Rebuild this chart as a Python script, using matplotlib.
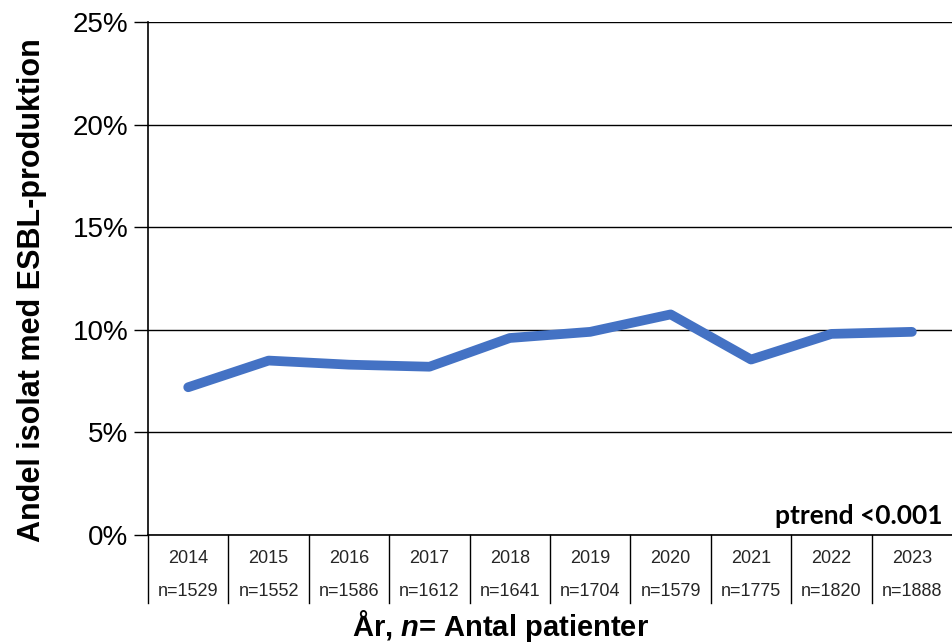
import matplotlib
matplotlib.use("Agg")
import matplotlib.pyplot as plt
import matplotlib.transforms as mtransforms

plt.rcParams['font.family'] = ['Liberation Sans', 'DejaVu Sans']
plt.rcParams['mathtext.fontset'] = 'custom'
plt.rcParams['mathtext.bfit'] = 'Liberation Sans:bold:italic'
plt.rcParams['mathtext.it'] = 'Liberation Sans:italic'

years = ['2014', '2015', '2016', '2017', '2018', '2019', '2020', '2021', '2022', '2023']
n_patients = [1529, 1552, 1586, 1612, 1641, 1704, 1579, 1775, 1820, 1888]
esbl_pct = [7.2, 8.5, 8.3, 8.2, 9.6, 9.9, 10.75, 8.55, 9.8, 9.9]
y_ticks = [0, 5, 10, 15, 20, 25]

fig = plt.figure(figsize=(9.53, 6.44), dpi=100)
ax = fig.add_axes([0.1553, 0.1693, 0.8437, 0.7965])

x = list(range(len(years)))
ax.plot(x, esbl_pct, color='#4472C4', linewidth=7, solid_capstyle='round', solid_joinstyle='round', zorder=3)

ax.set_xlim(-0.5, len(years) - 0.5)
ax.set_ylim(0, 25)
ax.set_yticks(y_ticks)
ax.set_yticklabels([f'{t}%' for t in y_ticks], fontsize=20)
ax.yaxis.grid(True, color='black', linewidth=1)
ax.set_axisbelow(True)
ax.tick_params(axis='y', length=10, width=1, direction='out', pad=4)
ax.set_xticks([])
for s in ['top', 'right']:
    ax.spines[s].set_visible(False)
ax.spines['left'].set_linewidth(1.2)
ax.spines['bottom'].set_linewidth(1.2)

# category table under the axis
trans = mtransforms.blended_transform_factory(ax.transData, ax.transAxes)
for i, (yr, n) in enumerate(zip(years, n_patients)):
    ax.text(i, -0.045, yr, transform=trans, ha='center', va='center', fontsize=13,
            color='#262626', clip_on=False)
    ax.text(i, -0.11, f'n={n}', transform=trans, ha='center', va='center', fontsize=13,
            color='#262626', clip_on=False)
for b in range(len(years)):
    ax.plot([b - 0.5, b - 0.5], [0, -0.133], transform=trans, color='black', linewidth=1, clip_on=False)

ax.text(0.988, 0.037, 'ptrend <0.001', transform=ax.transAxes, ha='right', va='center',
        fontsize=19, fontweight='bold', family=['Lato', 'DejaVu Sans'])

fig.text(500 / 953, 1 - 626 / 644, 'År, $\\boldsymbol{n}$= Antal patienter', ha='center', va='center',
         fontsize=21, fontweight='bold')
fig.text(32 / 953, 1 - 290 / 644, 'Andel isolat med ESBL-produktion', rotation=90, ha='center', va='center',
         fontsize=22, fontweight='bold')

fig.savefig('out.png', dpi=100)
